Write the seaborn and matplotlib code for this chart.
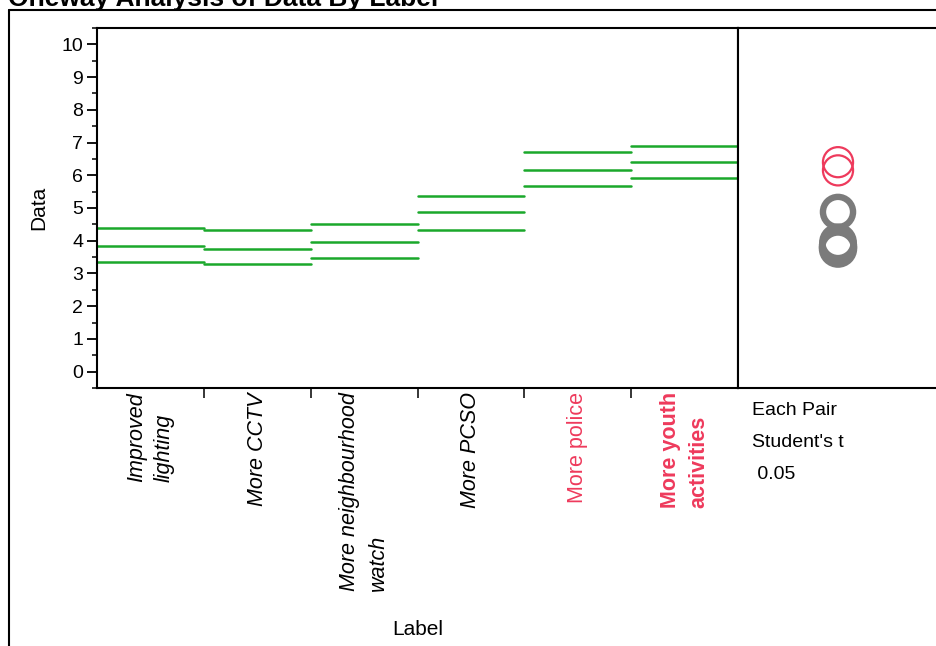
import numpy as np
import pandas as pd
import matplotlib
matplotlib.use("Agg")
import matplotlib.pyplot as plt
import seaborn as sns
from matplotlib.patches import Circle
from matplotlib.lines import Line2D
from matplotlib.ticker import MultipleLocator

# ---- data ----
labels = ["Improved\nlighting", "More CCTV", "More neighbourhood\nwatch",
          "More PCSO", "More police", "More youth\nactivities"]
means = [3.83, 3.76, 3.95, 4.88, 6.15, 6.40]
lower = [3.35, 3.28, 3.47, 4.33, 5.66, 5.91]
upper = [4.38, 4.32, 4.50, 5.36, 6.70, 6.90]
circle_radius = [0.49, 0.49, 0.48, 0.46, 0.46, 0.46]
highlighted = [False, False, False, False, True, True]
label_styles = ["italic", "italic", "italic", "italic", "normal", "normal"]
label_weights = ["normal", "normal", "normal", "normal", "normal", "bold"]
yticks = list(range(0, 11))
test_text = ["Each Pair", "Student's t", " 0.05"]

GREEN = "#1aa82b"
RED = "#ee3a5c"
GRAY = "#7b7b7b"

sns.set_theme(style="white")
plt.rcParams["font.family"] = ["Liberation Sans", "DejaVu Sans"]

W, H = 936, 646
fig = plt.figure(figsize=(W / 100, H / 100), dpi=100)
ax = fig.add_axes([97 / W, 1 - 388 / H, (738 - 97) / W, (388 - 28) / H])
ax2 = fig.add_axes([738 / W, 1 - 388 / H, (936 - 738) / W + 0.01, (388 - 28) / H])

# long-form table of the mean / CI segments
rows = []
for i, lab in enumerate(labels):
    for stat, vals in (("lower", lower), ("mean", means), ("upper", upper)):
        for x in (i - 0.5, i + 0.5):
            rows.append(dict(Label=lab, stat=stat, x=x, value=vals[i], seg=f"{i}-{stat}"))
df = pd.DataFrame(rows)

sns.lineplot(data=df, x="x", y="value", units="seg", estimator=None,
             color=GREEN, linewidth=1.8, ax=ax, legend=False)

ax.set_xlim(-0.5, len(labels) - 0.5)
ax.set_ylim(-0.5, 10.5)
ax.set_yticks(yticks)
ax.set_yticklabels([str(t) for t in yticks])
ax.yaxis.set_minor_locator(MultipleLocator(0.5))
ax.tick_params(axis="y", which="major", direction="out", length=7, width=1.3,
               labelsize=14, left=True, pad=3, colors="black")
ax.tick_params(axis="y", which="minor", direction="out", length=3.5, width=1.3, left=True)

# boundaries as major ticks, category labels on minor ticks
ax.set_xticks([i + 0.5 for i in range(len(labels) - 1)])
ax.set_xticklabels([])
ax.set_xticks(range(len(labels)), labels, minor=True)
ax.tick_params(axis="x", which="major", direction="out", length=7, width=1.3, bottom=True)
ax.tick_params(axis="x", which="minor", length=0, pad=3, labelsize=15.5)
for lbl, st, wt, hi in zip(ax.get_xticklabels(minor=True), label_styles, label_weights, highlighted):
    lbl.set_rotation(90)
    lbl.set_va("top")
    lbl.set_ha("center")
    lbl.set_multialignment("left")
    lbl.set_linespacing(1.45)
    lbl.set_fontstyle(st)
    lbl.set_fontweight(wt)
    lbl.set_color(RED if hi else "black")
    lbl.set_fontsize(15.5)

ax.set_xlabel("Label", fontsize=15, color="black")
ax.xaxis.set_label_coords(0.5, -0.645)
ax.set_ylabel("Data", fontsize=15, color="black")
ax.yaxis.set_label_coords(-0.076, 0.5)

for s in ax.spines.values():
    s.set_color("black")
    s.set_linewidth(1.5)

# comparison circles panel
ax2.set_ylim(-0.5, 10.5)
w_px = ax2.get_position().width * W
h_px = ax2.get_position().height * H
xr = 11 * w_px / h_px
ax2.set_xlim(0, xr)
cx = (838 - 738) / w_px * xr
for m, r, hi in zip(means, circle_radius, highlighted):
    if not hi:
        ax2.add_patch(Circle((cx, m), r, fill=False, edgecolor=GRAY, linewidth=4.6))
for m, r, hi in zip(means, circle_radius, highlighted):
    if hi:
        ax2.add_patch(Circle((cx, m), r, fill=False, edgecolor=RED, linewidth=1.6))
ax2.set_xticks([])
ax2.set_yticks([])
for k, s in ax2.spines.items():
    s.set_color("black")
    s.set_linewidth(1.5)
ax2.spines["right"].set_visible(False)

for txt, yb in zip(test_text, (415, 447, 479)):
    fig.text(752 / W, 1 - yb / H, txt, fontsize=14, va="baseline", ha="left", color="black")

# outer report frame and title (clipped at the top edge, as in the reference)
fig.add_artist(Line2D([9 / W, 9 / W], [0, 1 - 10 / H], color="black", linewidth=1.5))
fig.add_artist(Line2D([9 / W, 1], [1 - 10 / H, 1 - 10 / H], color="black", linewidth=1.5))
fig.text(8 / W, 1 - 6 / H, "Oneway Analysis of Data By Label", fontsize=19,
         fontweight="bold", va="baseline", ha="left", color="black")

fig.savefig("out.png", dpi=100, facecolor="white")
